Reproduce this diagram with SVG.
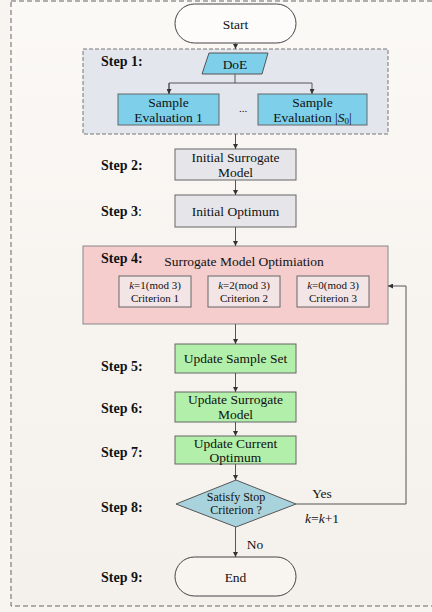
<svg xmlns="http://www.w3.org/2000/svg" width="432" height="612" viewBox="0 0 432 612">
<defs>
<linearGradient id="bg" x1="0" y1="0" x2="0" y2="1">
<stop offset="0" stop-color="#fbf9f5"/>
<stop offset="1" stop-color="#f4f0ec"/>
</linearGradient>
<marker id="arr" viewBox="0 0 10 10" refX="10" refY="5" markerWidth="5" markerHeight="5" orient="auto" markerUnits="userSpaceOnUse">
<path d="M0,0 L10,5 L0,10 z" fill="#333"/>
</marker>
</defs>
<style>
text{font-family:"Liberation Serif","Times New Roman",serif;fill:#111;}
.step{font-weight:bold;font-size:14px;}
.lbl{font-size:13.5px;text-anchor:middle;}
.sm{font-size:11px;text-anchor:middle;}
.dia{font-size:12px;text-anchor:middle;}
.con{stroke:#555;stroke-width:1;fill:none;}
.box{stroke:#666;stroke-width:1;}
</style>
<rect x="0" y="0" width="432" height="612" fill="#f8f5f1"/>
<rect x="11" y="1" width="430" height="605" fill="url(#bg)" stroke="#666" stroke-width="1" stroke-dasharray="5,3"/>

<g id="start">
<rect x="175" y="4" width="121" height="39" rx="19.5" fill="#fdfcfa" stroke="#444" stroke-width="1"/>
<text class="lbl" x="235.5" y="28.5">Start</text>
</g>

<g id="step1">
<rect x="83" y="49" width="305" height="85" fill="#e4e6ee" stroke="#777" stroke-width="1" stroke-dasharray="4,2"/>
<text class="step" x="101" y="66">Step 1:</text>
</g>

<g id="doe">
<polygon points="209,53 268,53 262,74 202,74" fill="#7dcfea" stroke="#555" stroke-width="1"/>
<text class="lbl" x="235" y="68.5">DoE</text>
</g>

<g id="eval1">
<rect class="box" x="118" y="94" width="101" height="31" fill="#7dcfea"/>
<text class="lbl" x="168.5" y="106.5">Sample</text>
<text class="lbl" x="168.5" y="121.5">Evaluation 1</text>
</g>
<text class="sm" x="243" y="112">...</text>
<g id="evalS">
<rect class="box" x="258" y="94" width="109" height="31" fill="#7dcfea"/>
<text class="lbl" x="312.5" y="106.5">Sample</text>
<text class="lbl" x="312.5" y="121.5">Evaluation |<tspan font-style="italic">S</tspan><tspan font-size="9" dy="2">0</tspan><tspan dy="-2">|</tspan></text>
</g>

<g id="step2">
<text class="step" x="101" y="170">Step 2:</text>
<rect class="box" x="175" y="149" width="121" height="31" fill="#e6e6ea"/>
<text class="lbl" x="235.5" y="161.5">Initial Surrogate</text>
<text class="lbl" x="235.5" y="176.5">Model</text>
</g>

<g id="step3">
<text class="step" x="101" y="216">Step 3<tspan font-weight="normal">:</tspan></text>
<rect class="box" x="175" y="195" width="121" height="32" fill="#e6e6ea"/>
<text class="lbl" x="235.5" y="215.5">Initial Optimum</text>
</g>

<g id="step4">
<rect x="83" y="246" width="305" height="78" fill="#f5cdcd" stroke="#888" stroke-width="1"/>
<text class="step" x="101" y="263">Step 4:</text>
<text class="lbl" x="244" y="266">Surrogate Model Optimiation</text>
</g>
<g id="crit1">
<rect class="box" x="119" y="276" width="72" height="31" fill="#f3e4e6" stroke="#555"/>
<text class="sm" x="155" y="289"><tspan font-style="italic">k</tspan>=1(mod 3)</text>
<text class="sm" x="155" y="301.5">Criterion 1</text>
</g>
<g id="crit2">
<rect class="box" x="208" y="276" width="72" height="31" fill="#f3e4e6" stroke="#555"/>
<text class="sm" x="244" y="289"><tspan font-style="italic">k</tspan>=2(mod 3)</text>
<text class="sm" x="244" y="301.5">Criterion 2</text>
</g>
<g id="crit3">
<rect class="box" x="297" y="276" width="72" height="31" fill="#f3e4e6" stroke="#555"/>
<text class="sm" x="333" y="289"><tspan font-style="italic">k</tspan>=0(mod 3)</text>
<text class="sm" x="333" y="301.5">Criterion 3</text>
</g>

<g id="step5">
<text class="step" x="101" y="371">Step 5:</text>
<rect class="box" x="175" y="344" width="121" height="29" fill="#b2efaa"/>
<text class="lbl" x="235.5" y="363">Update Sample Set</text>
</g>

<g id="step6">
<text class="step" x="101" y="413">Step 6:</text>
<rect class="box" x="175" y="392" width="121" height="30" fill="#b2efaa"/>
<text class="lbl" x="235.5" y="404">Update Surrogate</text>
<text class="lbl" x="235.5" y="419">Model</text>
</g>

<g id="step7">
<text class="step" x="101" y="457">Step 7:</text>
<rect class="box" x="175" y="436" width="121" height="28" fill="#b2efaa"/>
<text class="lbl" x="235.5" y="447.5">Update Current</text>
<text class="lbl" x="235.5" y="461.5">Optimum</text>
</g>

<g id="step8">
<text class="step" x="101" y="512">Step 8:</text>
<polygon points="236,480 296,504 236,527 176,504" fill="#a9d3dc" stroke="#555" stroke-width="1"/>
<text class="dia" x="236" y="501">Satisfy Stop</text>
<text class="dia" x="236" y="514">Criterion ?</text>
</g>

<g id="step9">
<text class="step" x="101" y="582">Step 9:</text>
<rect x="175" y="557" width="121" height="39" rx="19.5" fill="#f8f5f1" stroke="#444" stroke-width="1"/>
<text class="lbl" x="235.5" y="581.5">End</text>
</g>

<g id="connectors">
<line class="con" x1="235.5" y1="43" x2="235.5" y2="49" marker-end="url(#arr)"/>
<polyline class="con" points="235,74 235,83"/>
<polyline class="con" points="169,94 169,83 312,83 312,94" marker-end="url(#arr)"/>
<line class="con" x1="169" y1="83" x2="169" y2="94" marker-end="url(#arr)"/>
<line class="con" x1="235.5" y1="134" x2="235.5" y2="149" marker-end="url(#arr)"/>
<line class="con" x1="235.5" y1="180" x2="235.5" y2="195" marker-end="url(#arr)"/>
<line class="con" x1="235.5" y1="227" x2="235.5" y2="246" marker-end="url(#arr)"/>
<line class="con" x1="235.5" y1="324" x2="235.5" y2="344" marker-end="url(#arr)"/>
<line class="con" x1="235.5" y1="373" x2="235.5" y2="392" marker-end="url(#arr)"/>
<line class="con" x1="235.5" y1="422" x2="235.5" y2="436" marker-end="url(#arr)"/>
<line class="con" x1="235.5" y1="464" x2="235.5" y2="480" marker-end="url(#arr)"/>
<line class="con" x1="235.5" y1="527" x2="235.5" y2="557" marker-end="url(#arr)"/>
<polyline class="con" points="296,504 406,504 406,286 388,286" marker-end="url(#arr)"/>
<text x="322" y="498" font-size="13.5" text-anchor="middle">Yes</text>
<text x="322" y="523" font-size="13.5" text-anchor="middle"><tspan font-style="italic">k</tspan>=<tspan font-style="italic">k</tspan>+1</text>
<text x="255" y="549" font-size="13.5" text-anchor="middle">No</text>
</g>
</svg>
